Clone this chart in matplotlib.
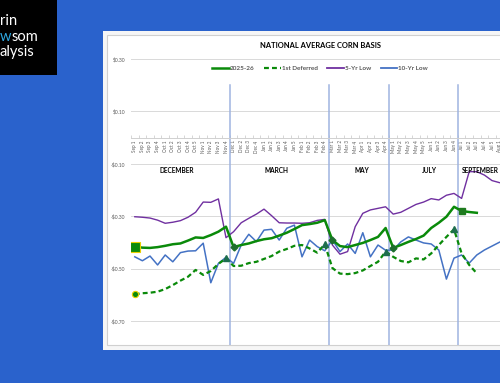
import numpy as np
import matplotlib
matplotlib.use("Agg")
from matplotlib import pyplot as plt
from matplotlib.lines import Line2D
from matplotlib.patches import Rectangle

plt.rcParams['font.family'] = ['Lato', 'DejaVu Sans']

# weekly categories, Sep wk1 .. Aug wk1 (chart is cut off on the right)
weeks = (['Sep %d' % i for i in range(1, 5)] + ['Oct %d' % i for i in range(1, 6)] +
         ['Nov %d' % i for i in range(1, 5)] + ['Dec %d' % i for i in range(1, 5)] +
         ['Jan %d' % i for i in range(1, 6)] + ['Feb %d' % i for i in range(1, 5)] +
         ['Mar %d' % i for i in range(1, 5)] + ['Apr %d' % i for i in range(1, 5)] +
         ['May %d' % i for i in range(1, 6)] + ['Jun %d' % i for i in range(1, 5)] +
         ['Jul %d' % i for i in range(1, 6)] + ['Aug 1'])

cur = [-0.416, -0.420, -0.421, -0.418, -0.413, -0.407, -0.404, -0.393, -0.381, -0.383,
       -0.372, -0.359, -0.340, -0.418, -0.410, -0.404, -0.395, -0.388, -0.384, -0.374,
       -0.363, -0.349, -0.334, -0.330, -0.325, -0.315, -0.391, -0.414, -0.418, -0.410,
       -0.402, -0.391, -0.379, -0.345, -0.421, -0.410, -0.398, -0.387, -0.374, -0.345,
       -0.325, -0.302, -0.264, -0.280, -0.284, -0.287]

deferred = [-0.598, -0.594, -0.592, -0.588, -0.578, -0.563, -0.546, -0.531, -0.505, -0.524,
            -0.509, -0.482, -0.461, -0.490, -0.489, -0.479, -0.474, -0.463, -0.452, -0.435,
            -0.425, -0.413, -0.410, -0.423, -0.439, -0.407, -0.498, -0.519, -0.521, -0.517,
            -0.507, -0.490, -0.474, -0.435, -0.455, -0.471, -0.476, -0.461, -0.465, -0.442,
            -0.410, -0.379, -0.350, -0.442, -0.486, -0.518]

low5 = [-0.302, -0.304, -0.307, -0.315, -0.327, -0.323, -0.317, -0.304, -0.285, -0.246,
        -0.247, -0.234, -0.382, -0.359, -0.325, -0.308, -0.292, -0.273, -0.298, -0.325,
        -0.326, -0.326, -0.327, -0.325, -0.316, -0.312, -0.410, -0.445, -0.435, -0.340,
        -0.289, -0.276, -0.270, -0.264, -0.292, -0.285, -0.270, -0.255, -0.246, -0.233,
        -0.238, -0.220, -0.213, -0.232, -0.130, -0.130, -0.143, -0.164, -0.172, -0.175]

low10 = [-0.455, -0.470, -0.452, -0.486, -0.448, -0.474, -0.439, -0.433, -0.432, -0.403,
         -0.554, -0.480, -0.457, -0.480, -0.410, -0.369, -0.397, -0.353, -0.350, -0.391,
         -0.346, -0.334, -0.455, -0.391, -0.416, -0.432, -0.391, -0.435, -0.406, -0.442,
         -0.363, -0.455, -0.410, -0.430, -0.429, -0.398, -0.379, -0.391, -0.402, -0.406,
         -0.429, -0.540, -0.460, -0.448, -0.479, -0.448, -0.429, -0.414, -0.399, -0.390]

# contract roll weeks: last week of old contract / first week of next
roll_last = [12, 25, 33, 42]
roll_first = [13, 26, 34]
now_idx = 43

months = ['DECEMBER', 'MARCH', 'MAY', 'JULY', 'SEPTEMBER']
month_pos = [5.5, 18.7, 29.9, 38.7, 45.4]

W, H = 500, 383
fig = plt.figure(figsize=(W / 100, H / 100), dpi=100)
fig.patch.set_facecolor('#2a62cc')


def fx(px):
    return px / W


def fy(py):
    return 1 - py / H


def box(x0, y0, x1, y1, **kw):
    fig.add_artist(Rectangle((fx(x0), fy(y1)), fx(x1) - fx(x0), fy(y0) - fy(y1),
                             transform=fig.transFigure, zorder=-5, **kw))


# logo block
box(0, 0, 57, 75, facecolor='black', edgecolor='none')
fig.text(fx(0), fy(21), 'rin', color='white', fontsize=10.5, va='center', ha='left')
fig.text(fx(0), fy(37), 'w', color='#2ea7e0', fontsize=10.5, va='center', ha='left')
fig.text(fx(11.5), fy(37), 'som', color='white', fontsize=10.5, va='center', ha='left')
fig.text(fx(0), fy(52), 'alysis', color='white', fontsize=10.5, va='center', ha='left')

# chart panel
box(103, 31, 520, 350, facecolor='#f6f6f6', edgecolor='none')
box(107, 35, 520, 345, facecolor='white', edgecolor='#d0d0d0', linewidth=0.8)

left, right, top, bottom = 131, 131 + 52 * 7.6, 59, 344.6
ax = fig.add_axes([fx(left), fy(bottom), fx(right) - fx(left), fy(top) - fy(bottom)])
ax.set_facecolor('none')
n = len(weeks)
ax.set_xlim(-0.5, 51.5)
ax.set_ylim(-0.79, 0.30)

yt = [0.30, 0.10, -0.10, -0.30, -0.50, -0.70]
ax.set_yticks(yt)
ax.set_yticklabels([('-$%.2f' % -v) if v < 0 else ('$%.2f' % v) for v in yt],
                   fontsize=3.6, color='#595959')
ax.tick_params(axis='y', length=0, pad=4)
ax.grid(axis='y', color='#d9d9d9', linewidth=0.7)
ax.set_axisbelow(True)
for s in ['top', 'right', 'left']:
    ax.spines[s].set_visible(False)
ax.spines['bottom'].set_position(('data', 0))
ax.spines['bottom'].set_color('#d0d0d0')
ax.spines['bottom'].set_linewidth(0.7)
ax.set_xticks(np.arange(n))
ax.set_xticklabels(weeks, rotation=90, fontsize=3.3, color='#595959')
ax.set_xticks(np.arange(n + 1) - 0.5, minor=True)
ax.tick_params(axis='x', which='major', length=0, pad=2)
ax.tick_params(axis='x', which='minor', length=2.5, color='#d0d0d0', width=0.6, direction='in')

# contract separators
for b in [12.5, 25.5, 33.5, 42.5]:
    ax.plot([b, b], [0.2, -0.79], color='#9fb4e0', linewidth=1.1, zorder=1)

green = '#0a8a0a'
ax.plot(range(len(low5)), low5, color='#7030a0', linewidth=1.0, zorder=3)
ax.plot(range(len(low10)), low10, color='#4472c4', linewidth=1.1, zorder=3)
ax.plot(range(len(deferred)), deferred, color=green, linewidth=1.6, dashes=(2.2, 1.4), zorder=4)
ax.plot(range(len(cur)), cur, color=green, linewidth=1.8, zorder=5)

ax.plot(0, cur[0], 's', ms=6.5, color=green, mec='#e8d000', mew=0.8, zorder=6)
ax.plot(0, deferred[0], 'o', ms=4.5, color=green, mec='#e8d000', mew=0.8, zorder=6)
ax.plot(roll_last, [deferred[i] for i in roll_last], '^', ms=4, color='#1e6e4e', zorder=6)
ax.plot(roll_first, [cur[i] for i in roll_first], 'D', ms=3.5, color='#1e6e2e', zorder=6)
ax.plot(now_idx, cur[now_idx], 's', ms=4.5, color='#1e7a1e', zorder=6)

for m, p in zip(months, month_pos):
    ax.text(p, -0.125, m, ha='center', va='center', fontsize=4.7, fontweight='bold')

fig.text(fx(320), fy(46), 'NATIONAL AVERAGE CORN BASIS', ha='center', va='center',
         fontsize=5.4, fontweight='bold', color='black')

handles = [Line2D([], [], color=green, linewidth=1.8),
           Line2D([], [], color=green, linewidth=1.6, dashes=(2.2, 1.4)),
           Line2D([], [], color='#7030a0', linewidth=1.3),
           Line2D([], [], color='#4472c4', linewidth=1.3)]
fig.legend(handles, ['2025-26', '1st Deferred', '5-Yr Low', '10-Yr Low'], loc='center',
           bbox_to_anchor=(fx(320), fy(68)), ncol=4, frameon=False,
           handlelength=2.6, handletextpad=0.15, columnspacing=1.5,
           labelcolor='#595959', prop={'weight': 'bold', 'size': 4.6})

fig.savefig('out.png', dpi=100, facecolor=fig.get_facecolor())
